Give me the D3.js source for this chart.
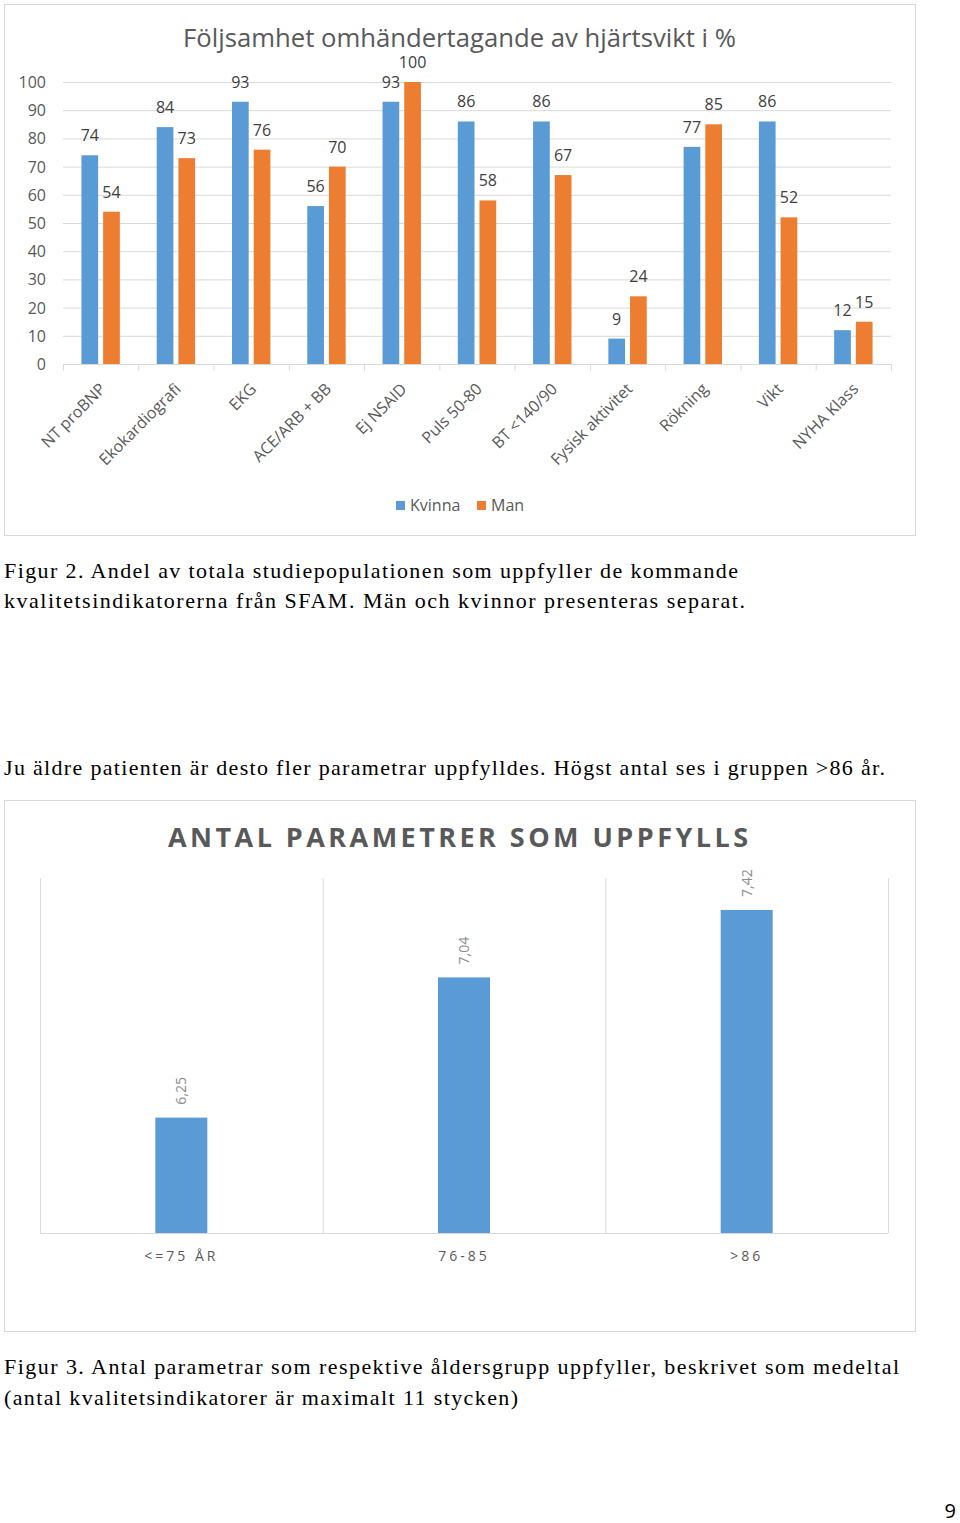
<!DOCTYPE html>
<html>
<head>
<meta charset="utf-8">
<script src="https://cdn.jsdelivr.net/npm/d3@7"></script>
<style>
  body { margin: 0; background: #fff; }
  svg { display: block; }
</style>
</head>
<body>
<div id="page"></div>
<script>
// data figur 2
var indikatorer = ["NT proBNP", "Ekokardiografi", "EKG", "ACE/ARB + BB", "Ej NSAID", "Puls 50-80",
                   "BT <140/90", "Fysisk aktivitet", "Rökning", "Vikt", "NYHA Klass"];
var serier = ["Kvinna", "Man"];
var kvinna = [74, 84, 93, 56, 93, 86, 86, 9, 77, 86, 12];
var man = [54, 73, 76, 70, 100, 58, 67, 24, 85, 52, 15];
var yTicks1 = [0, 10, 20, 30, 40, 50, 60, 70, 80, 90, 100];

// data figur 3
var aldersgrupper = ["<=75 ÅR", "76-85", ">86"];
var medeltal = [6.25, 7.04, 7.42];
var etiketter = ["6,25", "7,04", "7,42"];

var blue = "#5B9BD5", orange = "#ED7D31", grid = "#d9d9d9", txt = "#595959";
var sans = "'Open Sans', 'Noto Sans', sans-serif";
var serif = "'Liberation Serif', 'Times New Roman', serif";

var svg = d3.select("#page").append("svg")
    .attr("width", 960)
    .attr("height", 1523);

// ---------------- figur 2 ----------------
var c1 = svg.append("g");

c1.append("rect")
    .attr("x", 4.5).attr("y", 4.5).attr("width", 911).attr("height", 531)
    .attr("fill", "none").attr("stroke", grid);

c1.append("text")
    .attr("x", 459.5).attr("y", 47)
    .attr("text-anchor", "middle")
    .attr("font-family", sans).attr("font-size", 25).attr("fill", txt)
    .attr("textLength", 553).attr("lengthAdjust", "spacingAndGlyphs")
    .text("Följsamhet omhändertagande av hjärtsvikt i %");

var x = d3.scaleBand().domain(indikatorer).range([63, 891]).padding(0);
var xSub = d3.scaleBand().domain(serier).range([0, x.bandwidth()])
    .paddingInner(0.23).paddingOuter(0.85);
var y = d3.scaleLinear().domain([0, 100]).range([364, 82]);
var color = d3.scaleOrdinal().domain(serier).range([blue, orange]);

// gridlines + y labels
c1.append("g").selectAll("line").data(yTicks1.slice(1)).enter().append("line")
    .attr("x1", 63).attr("x2", 891)
    .attr("y1", function (d) { return y(d) + 0.5; })
    .attr("y2", function (d) { return y(d) + 0.5; })
    .attr("stroke", grid);

c1.append("g").selectAll("text").data(yTicks1).enter().append("text")
    .attr("x", 46).attr("y", function (d) { return y(d) + 6; })
    .attr("text-anchor", "end")
    .attr("font-family", sans).attr("font-size", 16).attr("fill", txt)
    .text(function (d) { return d; });

// x axis (baseline and tick marks between categories)
var xAxis = c1.append("g")
    .attr("transform", "translate(0," + 364.5 + ")")
    .call(d3.axisBottom(x).tickSize(0).tickFormat(""));
xAxis.select(".domain").attr("stroke", grid).attr("d", "M63,0H891");
xAxis.selectAll(".tick").remove();
xAxis.selectAll("line.sep").data(indikatorer.concat(["end"])).enter().append("line")
    .attr("class", "sep")
    .attr("x1", function (d, i) { return 63 + i * x.step() + 0.5; })
    .attr("x2", function (d, i) { return 63 + i * x.step() + 0.5; })
    .attr("y1", 0).attr("y2", 6)
    .attr("stroke", grid);

// bars
var rows = indikatorer.map(function (k, i) {
    return { namn: k, values: [{ key: "Kvinna", value: kvinna[i] }, { key: "Man", value: man[i] }] };
});

var grp = c1.append("g").selectAll("g").data(rows).enter().append("g")
    .attr("transform", function (d) { return "translate(" + x(d.namn) + ",0)"; });

grp.selectAll("rect").data(function (d) { return d.values; }).enter().append("rect")
    .attr("x", function (d) { return xSub(d.key); })
    .attr("y", function (d) { return y(d.value); })
    .attr("width", xSub.bandwidth())
    .attr("height", function (d) { return y(0) - y(d.value); })
    .attr("fill", function (d) { return color(d.key); });

grp.selectAll("text").data(function (d) { return d.values; }).enter().append("text")
    .attr("x", function (d) { return xSub(d.key) + xSub.bandwidth() / 2; })
    .attr("y", function (d) { return y(d.value) - 14; })
    .attr("text-anchor", "middle")
    .attr("font-family", sans).attr("font-size", 16).attr("fill", "#404040")
    .text(function (d) { return d.value; });

// rotated category labels
c1.append("g").selectAll("text").data(indikatorer).enter().append("text")
    .attr("transform", function (d) {
        return "translate(" + (x(d) + x.bandwidth() / 2 + 2) + ",386) rotate(-45)";
    })
    .attr("text-anchor", "end")
    .attr("dy", "0.35em")
    .attr("font-family", sans).attr("font-size", 16).attr("fill", txt)
    .text(function (d) { return d; });

// legend
var leg = c1.append("g").selectAll("g").data(serier).enter().append("g")
    .attr("transform", function (d, i) { return "translate(" + (396 + i * 81) + ",501)"; });
leg.append("rect").attr("width", 9).attr("height", 9)
    .attr("fill", function (d) { return color(d); });
leg.append("text").attr("x", 14).attr("y", 9.5)
    .attr("font-family", sans).attr("font-size", 16).attr("fill", txt)
    .text(function (d) { return d; });

// ---------------- text ----------------
function rad(t, yy, len) {
    svg.append("text")
        .attr("x", 4).attr("y", yy)
        .attr("font-family", serif).attr("font-size", 22).attr("fill", "#000")
        .attr("textLength", len).attr("lengthAdjust", "spacing")
        .text(t);
}
rad("Figur 2. Andel av totala studiepopulationen som uppfyller de kommande", 578, 734);
rad("kvalitetsindikatorerna från SFAM. Män och kvinnor presenteras separat.", 608, 741);
rad("Ju äldre patienten är desto fler parametrar uppfylldes. Högst antal ses i gruppen >86 år.", 775, 881);
rad("Figur 3. Antal parametrar som respektive åldersgrupp uppfyller, beskrivet som medeltal", 1374, 895);
rad("(antal kvalitetsindikatorer är maximalt 11 stycken)", 1405, 514);

svg.append("text")
    .attr("x", 956).attr("y", 1518)
    .attr("text-anchor", "end")
    .attr("font-family", sans).attr("font-size", 20).attr("fill", "#000")
    .text("9");

// ---------------- figur 3 ----------------
var c2 = svg.append("g");

c2.append("rect")
    .attr("x", 4.5).attr("y", 800.5).attr("width", 911).attr("height", 531)
    .attr("fill", "none").attr("stroke", grid);

c2.append("text")
    .attr("x", 458).attr("y", 847)
    .attr("text-anchor", "middle")
    .attr("font-family", sans).attr("font-size", 27).attr("font-weight", "bold").attr("fill", txt)
    .attr("textLength", 580).attr("lengthAdjust", "spacing")
    .text("ANTAL PARAMETRER SOM UPPFYLLS");

var x2 = d3.scaleBand().domain(aldersgrupper).range([40, 888]).padding(0);
var y2 = d3.scaleLinear().domain([5.6, 7.6]).range([1233, 878]);
var barW = x2.bandwidth() * 0.184;

c2.append("g").selectAll("line").data(aldersgrupper.concat(["end"])).enter().append("line")
    .attr("x1", function (d, i) { return 40 + i * x2.step() + 0.5; })
    .attr("x2", function (d, i) { return 40 + i * x2.step() + 0.5; })
    .attr("y1", y2.range()[1]).attr("y2", y2.range()[0])
    .attr("stroke", grid);

c2.append("line")
    .attr("x1", 40).attr("x2", 888)
    .attr("y1", y2(5.6) + 0.5).attr("y2", y2(5.6) + 0.5)
    .attr("stroke", grid);

c2.append("g").selectAll("rect").data(medeltal).enter().append("rect")
    .attr("x", function (d, i) { return x2(aldersgrupper[i]) + x2.bandwidth() / 2 - barW / 2; })
    .attr("y", function (d) { return y2(d); })
    .attr("width", barW)
    .attr("height", function (d) { return y2(5.6) - y2(d); })
    .attr("fill", blue);

c2.append("g").selectAll("text").data(medeltal).enter().append("text")
    .attr("transform", function (d, i) {
        return "translate(" + (x2(aldersgrupper[i]) + x2.bandwidth() / 2) + "," + (y2(d) - 13) + ") rotate(-90)";
    })
    .attr("dy", "0.35em")
    .attr("font-family", sans).attr("font-size", 14).attr("fill", "#8c8c8c")
    .text(function (d, i) { return etiketter[i]; });

c2.append("g").selectAll("text").data(aldersgrupper).enter().append("text")
    .attr("x", function (d) { return x2(d) + x2.bandwidth() / 2; })
    .attr("y", 1261)
    .attr("text-anchor", "middle")
    .attr("font-family", sans).attr("font-size", 14).attr("fill", txt)
    .attr("letter-spacing", "3px")
    .text(function (d) { return d; });
</script>
</body>
</html>
